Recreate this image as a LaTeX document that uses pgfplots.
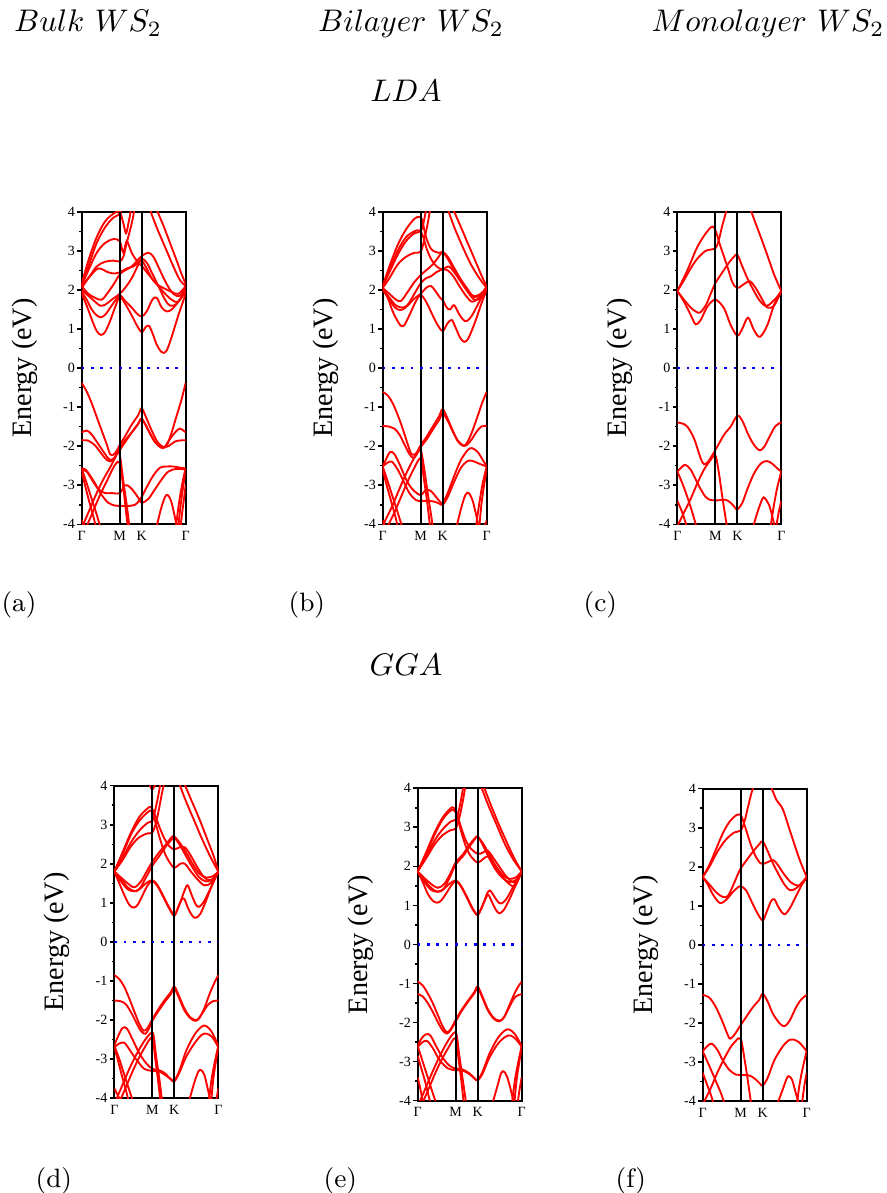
\documentclass[border=0pt]{standalone}
\usepackage{fontspec}
\usepackage{pgfplots}
\pgfplotsset{compat=1.18}
\newfontfamily\tms{Liberation Serif}
\pgfplotsset{
  band/.style={color=red, line width=0.6pt, smooth, tension=0.55, mark=none},
  bandaxis/.style={
    width=33.28pt, height=100pt, scale only axis,
    xmin=0, xmax=312, ymin=-4, ymax=4,
    xtick={0,114,180,312}, xticklabels={Γ,M,K,Γ},
    ytick={-4,-3,-2,-1,0,1,2,3,4}, yticklabels={-4,-3,-2,-1,0,1,2,3,4},
    minor y tick num=1, tick align=outside, ytick pos=left,
    xtick style={draw=none},
    major tick length=1.4pt, minor tick length=0.9pt,
    every tick/.style={black, line width=0.5pt},
    axis line style={line width=0.7pt},
    ticklabel style={font=\tms\fontsize{4.5}{5}\selectfont, inner sep=0.6pt},
    ylabel={Energy (eV)},
    every axis y label/.style={at={(axis description cs:-0.55,0.5)}, rotate=90, anchor=center, font=\tms\fontsize{9}{10}\selectfont},
    clip=true,
  },
  kmarks/.style={black, line width=0.7pt, mark=none},
  fermi/.style={blue, line width=0.72pt, dash pattern=on 0.85pt off 2.15pt, mark=none},
}
\begin{document}
\begin{tikzpicture}
\path[use as bounding box] (0,0) rectangle (283.52pt,-381.76pt);
\begin{scope}[x=0.32pt, y=-0.32pt]
\node[anchor=base] at (88,32) {$Bulk\ WS_2$};
\node[anchor=base] at (411,32) {$Bilayer\ WS_2$};
\node[anchor=base] at (768,32) {$Monolayer\ WS_2$};
\node[anchor=base] at (406,102) {$LDA$};
\node[anchor=base] at (406,675) {$GGA$};
\begin{scope}[every node/.style={anchor=base west, inner sep=0pt, font=\fontsize{8.5}{10}\selectfont}]
\node at (1,611) {(a)};
\node at (288,611) {(b)};
\node at (583,611) {(c)};
\node at (35,1187) {(d)};
\node at (323,1187) {(e)};
\node at (615,1187) {(f)};
\end{scope}
\end{scope}

% (a) Bulk LDA
\begin{axis}[bandaxis, at={(26.14pt,-167.78pt)}, anchor=south west]
\addplot[band] coordinates {(0,1.9)(15,1.6)(30,1.25)(45,0.95)(58,0.85)(70,0.92)(85,1.2)(100,1.55)(114,1.82)(130,1.65)(150,1.35)(165,1.1)(180,0.92)(192,1.05)(202,1.08)(212,0.9)(225,0.6)(238,0.42)(245,0.39)(255,0.45)(270,0.8)(290,1.35)(312,1.9)};
\addplot[band] coordinates {(0,1.95)(15,1.75)(30,1.5)(45,1.35)(58,1.3)(72,1.38)(90,1.6)(114,1.85)(130,1.72)(150,1.55)(165,1.4)(180,1.32)(195,1.45)(212,1.75)(225,1.8)(240,1.55)(255,1.45)(270,1.5)(290,1.7)(312,1.95)};
\addplot[band] coordinates {(0,2.0)(20,1.85)(40,1.7)(55,1.6)(70,1.62)(90,1.75)(114,1.9)(130,2.05)(150,2.3)(170,2.65)(180,2.8)(195,2.7)(210,2.45)(230,2.1)(250,1.75)(265,1.6)(285,1.65)(312,2.0)};
\addplot[band] coordinates {(0,2.1)(20,1.9)(40,1.8)(60,1.75)(80,1.95)(100,2.2)(114,2.4)(130,2.5)(150,2.6)(170,2.78)(180,2.87)(200,2.95)(215,2.85)(235,2.5)(255,2.15)(275,1.9)(295,1.85)(312,2.1)};
\addplot[band] coordinates {(0,2.05)(20,2.3)(45,2.6)(70,2.72)(95,2.75)(114,2.73)(125,2.85)(135,3.2)(150,3.7)(158,4.05)};
\addplot[band] coordinates {(0,2.1)(25,2.35)(50,2.55)(80,2.45)(100,2.42)(114,2.45)(135,2.55)(155,2.6)(170,2.7)(180,2.75)(195,2.55)(210,2.3)(225,2.15)(245,2.05)(270,1.95)(290,1.9)(312,2.1)};
\addplot[band] coordinates {(0,2.1)(20,2.5)(45,2.95)(70,3.2)(95,3.3)(114,3.25)(125,2.95)(135,3.25)(150,2.95)(165,2.75)(180,2.62)(200,2.4)(220,2.2)(245,1.95)(270,1.75)(290,1.7)(312,2.0)};
\addplot[band] coordinates {(0,2.15)(20,2.75)(45,3.35)(70,3.75)(95,3.95)(114,4.0)(125,3.7)(133,3.45)(140,3.7)(148,4.05)};
\addplot[band] coordinates {(0,2.1)(20,2.6)(45,3.2)(70,3.6)(95,3.85)(110,3.92)(120,4.05)};
\addplot[band] coordinates {(205,4.05)(225,3.6)(250,3.1)(275,2.6)(295,2.25)(312,2.1)};
\addplot[band] coordinates {(225,4.05)(245,3.65)(265,3.2)(285,2.75)(300,2.4)(312,2.15)};
\addplot[band] coordinates {(0,-0.38)(15,-0.6)(30,-0.9)(45,-1.25)(60,-1.6)(75,-1.95)(85,-2.2)(95,-2.22)(105,-2.12)(114,-1.97)(130,-1.75)(150,-1.45)(170,-1.2)(180,-1.03)(195,-1.3)(210,-1.6)(228,-1.9)(245,-2.02)(255,-1.98)(268,-1.7)(282,-1.3)(298,-0.85)(312,-0.38)};
\addplot[band] coordinates {(0,-1.65)(15,-1.6)(30,-1.7)(50,-1.95)(70,-2.2)(85,-2.35)(100,-2.28)(114,-2.05)(130,-1.85)(150,-1.65)(168,-1.45)(180,-1.3)(195,-1.5)(210,-1.75)(228,-1.97)(245,-2.05)(262,-1.85)(280,-1.65)(295,-1.55)(312,-1.65)};
\addplot[band] coordinates {(0,-1.85)(20,-1.86)(40,-1.98)(60,-2.2)(75,-2.35)(90,-2.38)(105,-2.2)(114,-2.1)(130,-1.9)(150,-1.65)(170,-1.42)(180,-1.3)(200,-1.6)(220,-1.9)(240,-2.02)(260,-2.0)(280,-1.88)(300,-1.85)(312,-1.85)};
\addplot[band] coordinates {(0,-2.57)(12,-2.6)(25,-2.75)(40,-2.95)(60,-3.25)(80,-3.45)(100,-3.52)(114,-3.53)(140,-3.53)(160,-3.5)(172,-3.4)(180,-3.3)(195,-3.05)(215,-2.75)(235,-2.55)(255,-2.52)(275,-2.52)(295,-2.55)(312,-2.57)};
\addplot[band] coordinates {(0,-2.6)(15,-2.65)(30,-2.85)(50,-3.1)(70,-3.2)(90,-3.2)(114,-3.2)(130,-3.0)(145,-3.05)(160,-3.2)(172,-3.35)(180,-3.45)(200,-3.35)(220,-3.1)(240,-2.85)(260,-2.65)(285,-2.58)(312,-2.6)};
\addplot[band] coordinates {(0,-4.1)(5,-4.0)(25,-3.6)(45,-3.2)(65,-2.85)(85,-2.55)(100,-2.3)(110,-2.15)(116,-2.3)(125,-2.9)(135,-3.5)(143,-4.05)};
\addplot[band] coordinates {(15,-4.05)(35,-3.65)(55,-3.25)(75,-2.9)(95,-2.55)(108,-2.4)(116,-2.5)(124,-3.0)(132,-3.6)(138,-4.05)};
\addplot[band] coordinates {(0,-2.57)(15,-2.95)(30,-3.35)(45,-3.75)(55,-4.05)};
\addplot[band] coordinates {(0,-2.65)(10,-3.0)(22,-3.4)(35,-3.8)(42,-4.05)};
\addplot[band] coordinates {(0,-3.9)(10,-4.05)};
\addplot[band] coordinates {(225,-4.05)(238,-3.6)(250,-3.3)(258,-3.25)(268,-3.4)(278,-3.75)(285,-4.05)};
\addplot[band] coordinates {(312,-2.55)(302,-2.95)(292,-3.45)(283,-4.05)};
\addplot[band] coordinates {(312,-2.65)(305,-3.0)(297,-3.5)(290,-4.05)};
\addplot[band] coordinates {(312,-3.0)(306,-3.4)(300,-3.8)(297,-4.05)};
\addplot[kmarks] coordinates {(114,-4) (114,4)};
\addplot[kmarks] coordinates {(180,-4) (180,4)};
\addplot[fermi] coordinates {(0,0) (312,0)};
\end{axis}

% (b) Bilayer LDA
\begin{axis}[bandaxis, at={(122.46pt,-167.78pt)}, anchor=south west]
\addplot[band] coordinates {(0,2.0)(15,1.8)(30,1.45)(45,1.2)(55,1.08)(65,1.1)(80,1.35)(100,1.72)(114,1.87)(130,1.7)(150,1.35)(165,1.1)(180,0.95)(195,1.15)(207,1.23)(218,1.05)(232,0.78)(245,0.67)(258,0.78)(278,1.2)(296,1.65)(312,2.0)};
\addplot[band] coordinates {(0,2.05)(15,1.85)(30,1.62)(45,1.5)(60,1.5)(75,1.6)(95,1.78)(114,1.9)(130,2.05)(145,2.1)(160,1.95)(172,1.8)(180,1.74)(192,1.55)(202,1.5)(214,1.61)(228,1.4)(240,1.25)(252,1.2)(268,1.35)(290,1.7)(312,2.05)};
\addplot[band] coordinates {(0,2.0)(20,1.8)(40,1.6)(60,1.55)(75,1.62)(95,1.9)(114,2.17)(130,2.3)(145,2.35)(160,2.45)(172,2.5)(180,2.53)(195,2.5)(212,2.35)(230,2.1)(250,1.85)(268,1.7)(290,1.8)(312,2.0)};
\addplot[band] coordinates {(0,2.05)(20,1.9)(40,1.75)(55,1.72)(75,1.95)(95,2.2)(114,2.38)(130,2.5)(150,2.65)(168,2.85)(180,2.97)(195,2.85)(212,2.6)(232,2.3)(252,2.05)(270,1.85)(290,1.88)(312,2.05)};
\addplot[band] coordinates {(0,2.05)(20,2.3)(45,2.65)(70,2.85)(95,2.95)(114,2.98)(125,3.3)(135,3.7)(142,4.05)};
\addplot[band] coordinates {(0,2.1)(20,2.45)(45,2.9)(70,3.25)(95,3.45)(114,3.5)(122,3.7)(130,4.05)};
\addplot[band] coordinates {(0,2.1)(20,2.6)(45,3.15)(70,3.55)(95,3.82)(110,3.87)(118,3.8)(130,3.35)(145,3.05)(160,2.97)(172,2.95)(180,2.97)(195,2.8)(215,2.5)(235,2.25)(255,2.0)(275,1.82)(295,1.88)(312,2.1)};
\addplot[band] coordinates {(0,2.05)(20,2.5)(45,3.0)(70,3.35)(95,3.5)(110,3.52)(120,3.4)(132,3.05)(148,2.75)(165,2.58)(180,2.53)(198,2.6)(215,2.45)(235,2.2)(255,1.95)(275,1.75)(295,1.8)(312,2.05)};
\addplot[band] coordinates {(196,4.05)(215,3.6)(240,3.1)(265,2.65)(290,2.3)(312,2.05)};
\addplot[band] coordinates {(212,4.05)(230,3.7)(255,3.2)(280,2.7)(300,2.3)(312,2.1)};
\addplot[band] coordinates {(0,-0.61)(15,-0.7)(30,-0.9)(45,-1.2)(60,-1.55)(75,-1.95)(85,-2.18)(95,-2.22)(105,-2.12)(114,-1.97)(130,-1.78)(150,-1.5)(170,-1.22)(180,-1.05)(195,-1.3)(210,-1.6)(225,-1.85)(240,-1.97)(250,-1.95)(265,-1.7)(282,-1.3)(298,-0.9)(312,-0.61)};
\addplot[band] coordinates {(0,-1.48)(20,-1.5)(35,-1.55)(50,-1.7)(65,-1.95)(80,-2.2)(92,-2.3)(103,-2.2)(114,-2.02)(130,-1.85)(150,-1.58)(170,-1.32)(180,-1.16)(195,-1.35)(210,-1.62)(225,-1.87)(240,-1.99)(252,-1.97)(265,-1.85)(280,-1.65)(295,-1.5)(312,-1.48)};
\addplot[band] coordinates {(0,-2.52)(12,-2.3)(22,-2.15)(35,-2.2)(50,-2.45)(65,-2.75)(80,-3.0)(95,-3.15)(114,-3.25)(130,-3.12)(145,-3.15)(160,-3.3)(172,-3.42)(180,-3.45)(195,-3.2)(215,-2.75)(235,-2.35)(255,-2.1)(268,-2.05)(285,-2.15)(300,-2.35)(312,-2.52)};
\addplot[band] coordinates {(0,-2.52)(15,-2.42)(28,-2.4)(45,-2.6)(60,-2.85)(80,-3.2)(100,-3.38)(114,-3.4)(135,-3.4)(155,-3.42)(170,-3.47)(180,-3.5)(195,-3.3)(215,-2.9)(235,-2.55)(255,-2.38)(270,-2.38)(290,-2.45)(312,-2.52)};
\addplot[band] coordinates {(0,-4.1)(5,-3.95)(25,-3.6)(45,-3.2)(65,-2.8)(85,-2.45)(100,-2.22)(110,-2.1)(116,-2.15)(125,-2.6)(135,-3.2)(145,-3.75)(150,-4.05)};
\addplot[band] coordinates {(15,-4.05)(35,-3.7)(55,-3.3)(75,-2.9)(95,-2.55)(108,-2.35)(116,-2.35)(123,-2.8)(133,-3.4)(142,-4.05)};
\addplot[band] coordinates {(0,-2.52)(15,-2.9)(30,-3.3)(45,-3.7)(58,-4.05)};
\addplot[band] coordinates {(0,-2.6)(12,-3.0)(25,-3.4)(38,-3.8)(45,-4.05)};
\addplot[band] coordinates {(0,-3.9)(8,-4.05)};
\addplot[band] coordinates {(222,-4.05)(235,-3.6)(248,-3.25)(258,-3.2)(270,-3.4)(280,-3.75)(288,-4.05)};
\addplot[band] coordinates {(312,-2.52)(300,-2.95)(290,-3.45)(280,-4.05)};
\addplot[band] coordinates {(312,-2.6)(304,-3.0)(296,-3.5)(290,-4.05)};
\addplot[band] coordinates {(312,-3.9)(306,-4.05)};
\addplot[kmarks] coordinates {(114,-4) (114,4)};
\addplot[kmarks] coordinates {(180,-4) (180,4)};
\addplot[fermi] coordinates {(0,0) (312,0)};
\end{axis}

% (c) Monolayer LDA
\begin{axis}[bandaxis, at={(216.74pt,-167.78pt)}, anchor=south west]
\addplot[band] coordinates {(0,1.97)(20,1.7)(40,1.36)(55,1.12)(70,1.23)(90,1.57)(114,1.75)(140,1.53)(160,1.1)(180,0.83)(195,1.01)(212,1.29)(230,0.97)(248,0.8)(270,1.1)(290,1.61)(312,1.97)};
\addplot[band] coordinates {(0,1.97)(20,1.75)(40,1.55)(55,1.45)(68,1.42)(85,1.6)(100,1.9)(114,2.17)(135,2.45)(155,2.7)(170,2.85)(180,2.9)(195,2.6)(210,2.3)(225,2.05)(245,1.75)(262,1.6)(275,1.62)(295,1.78)(312,1.97)};
\addplot[band] coordinates {(0,1.97)(20,2.25)(40,2.55)(60,2.8)(85,3.0)(114,3.07)(125,3.3)(135,3.65)(148,4.05)};
\addplot[band] coordinates {(0,1.97)(30,2.5)(60,3.1)(90,3.5)(110,3.6)(130,3.1)(150,2.6)(165,2.2)(180,2.05)(200,2.15)(218,2.22)(235,2.05)(255,1.75)(270,1.55)(290,1.6)(312,1.97)};
\addplot[band] coordinates {(220,4.05)(235,3.7)(250,3.36)(270,2.89)(290,2.4)(312,1.97)};
\addplot[band] coordinates {(0,-1.39)(15,-1.42)(30,-1.5)(50,-1.8)(70,-2.31)(80,-2.46)(92,-2.4)(114,-2.1)(140,-1.71)(160,-1.5)(180,-1.22)(195,-1.35)(210,-1.65)(225,-1.9)(240,-2.07)(250,-2.1)(262,-2.0)(280,-1.7)(295,-1.48)(312,-1.39)};
\addplot[band] coordinates {(0,-2.65)(15,-2.52)(25,-2.48)(40,-2.6)(55,-2.85)(70,-3.1)(85,-3.3)(100,-3.38)(114,-3.39)(130,-3.38)(145,-3.37)(160,-3.45)(172,-3.56)(180,-3.62)(195,-3.45)(210,-3.1)(230,-2.7)(250,-2.45)(268,-2.38)(285,-2.45)(300,-2.57)(312,-2.65)};
\addplot[band] coordinates {(0,-4.05)(20,-3.7)(40,-3.35)(60,-2.95)(80,-2.6)(100,-2.35)(110,-2.25)(116,-2.27)(125,-2.7)(135,-3.3)(145,-3.85)(150,-4.1)};
\addplot[band] coordinates {(0,-2.65)(15,-2.95)(30,-3.3)(45,-3.7)(57,-4.05)};
\addplot[band] coordinates {(0,-3.4)(15,-3.7)(28,-4.05)};
\addplot[band] coordinates {(228,-4.05)(240,-3.7)(255,-3.35)(262,-3.33)(275,-3.5)(285,-3.8)(292,-4.05)};
\addplot[band] coordinates {(312,-2.65)(300,-3.05)(290,-3.5)(280,-4.05)};
\addplot[band] coordinates {(312,-3.4)(304,-3.7)(297,-4.05)};
\addplot[kmarks] coordinates {(114,-4) (114,4)};
\addplot[kmarks] coordinates {(180,-4) (180,4)};
\addplot[fermi] coordinates {(0,0) (312,0)};
\end{axis}

% (d) Bulk GGA
\begin{axis}[bandaxis, at={(36.58pt,-351.42pt)}, anchor=south west]
\addplot[band] coordinates {(0,1.8)(15,1.5)(30,1.2)(45,0.95)(58,0.88)(70,0.95)(85,1.2)(100,1.45)(114,1.56)(130,1.42)(150,1.1)(165,0.85)(180,0.67)(192,0.9)(202,1.08)(210,1.1)(222,0.85)(235,0.66)(245,0.62)(258,0.72)(275,1.05)(293,1.45)(312,1.8)};
\addplot[band] coordinates {(0,1.8)(20,1.55)(40,1.35)(58,1.3)(75,1.35)(95,1.5)(114,1.58)(130,1.45)(150,1.12)(165,0.88)(180,0.7)(195,0.95)(210,1.3)(220,1.45)(232,1.2)(245,0.95)(255,0.9)(270,1.05)(290,1.4)(312,1.8)};
\addplot[band] coordinates {(0,1.8)(20,1.6)(40,1.4)(60,1.3)(75,1.35)(95,1.65)(114,1.95)(135,2.2)(155,2.45)(172,2.62)(180,2.67)(195,2.5)(215,2.2)(235,1.9)(255,1.65)(275,1.55)(295,1.6)(312,1.8)};
\addplot[band] coordinates {(0,1.8)(20,1.65)(40,1.5)(60,1.4)(80,1.55)(100,1.85)(114,2.05)(135,2.3)(155,2.5)(172,2.68)(180,2.7)(195,2.55)(215,2.3)(235,2.0)(255,1.75)(275,1.65)(295,1.68)(312,1.8)};
\addplot[band] coordinates {(0,1.8)(25,2.1)(50,2.45)(75,2.68)(100,2.78)(114,2.8)(125,3.05)(135,3.45)(145,3.9)(150,4.05)};
\addplot[band] coordinates {(0,1.8)(25,2.15)(50,2.55)(75,2.85)(100,3.05)(114,3.1)(122,3.35)(132,3.75)(138,4.05)};
\addplot[band] coordinates {(0,1.8)(25,2.3)(50,2.8)(75,3.2)(100,3.42)(110,3.45)(120,3.3)(135,2.95)(150,2.65)(165,2.45)(180,2.37)(195,2.42)(212,2.42)(230,2.2)(250,1.9)(270,1.65)(290,1.58)(312,1.8)};
\addplot[band] coordinates {(0,1.8)(25,2.25)(50,2.75)(75,3.1)(100,3.32)(112,3.35)(122,3.1)(135,2.7)(150,2.3)(165,2.05)(180,1.9)(198,2.0)(212,2.0)(230,1.8)(250,1.6)(270,1.45)(292,1.52)(312,1.8)};
\addplot[band] coordinates {(105,4.05)(114,3.9)(123,4.05)};
\addplot[band] coordinates {(195,4.05)(215,3.6)(240,3.1)(265,2.6)(290,2.15)(312,1.8)};
\addplot[band] coordinates {(210,4.05)(230,3.65)(255,3.15)(280,2.6)(298,2.2)(312,1.8)};
\addplot[band] coordinates {(0,-0.85)(15,-0.95)(30,-1.15)(45,-1.45)(60,-1.78)(75,-2.1)(88,-2.27)(100,-2.2)(114,-1.98)(130,-1.75)(150,-1.5)(170,-1.28)(180,-1.14)(195,-1.4)(210,-1.7)(228,-1.93)(245,-2.0)(255,-1.95)(270,-1.7)(285,-1.35)(300,-1.05)(312,-0.85)};
\addplot[band] coordinates {(0,-1.5)(20,-1.52)(35,-1.6)(50,-1.8)(65,-2.05)(80,-2.28)(93,-2.35)(105,-2.2)(114,-2.02)(130,-1.8)(150,-1.55)(170,-1.33)(180,-1.2)(195,-1.45)(210,-1.75)(228,-1.95)(245,-2.02)(262,-1.85)(280,-1.62)(295,-1.52)(312,-1.5)};
\addplot[band] coordinates {(0,-2.65)(12,-2.4)(25,-2.2)(38,-2.22)(55,-2.5)(75,-2.85)(95,-3.1)(114,-3.25)(130,-3.27)(150,-3.35)(168,-3.5)(180,-3.55)(195,-3.3)(215,-2.8)(240,-2.38)(262,-2.17)(275,-2.15)(292,-2.3)(312,-2.65)};
\addplot[band] coordinates {(0,-2.7)(15,-2.6)(30,-2.58)(45,-2.75)(65,-3.0)(90,-3.25)(114,-3.3)(135,-3.32)(155,-3.42)(170,-3.52)(180,-3.57)(195,-3.35)(215,-2.95)(240,-2.6)(262,-2.38)(278,-2.35)(295,-2.45)(312,-2.7)};
\addplot[band] coordinates {(0,-4.15)(5,-4.05)(25,-3.65)(45,-3.25)(65,-2.9)(85,-2.6)(100,-2.42)(112,-2.32)(118,-2.4)(125,-2.9)(135,-3.5)(143,-4.05)};
\addplot[band] coordinates {(18,-4.05)(38,-3.65)(58,-3.25)(78,-2.9)(98,-2.6)(110,-2.45)(116,-2.5)(123,-3.0)(132,-3.6)(138,-4.05)};
\addplot[band] coordinates {(0,-2.65)(15,-3.0)(30,-3.4)(45,-3.8)(55,-4.05)};
\addplot[band] coordinates {(0,-2.7)(10,-3.0)(22,-3.4)(35,-3.8)(42,-4.05)};
\addplot[band] coordinates {(0,-3.75)(12,-3.95)(18,-4.05)};
\addplot[band] coordinates {(225,-4.05)(240,-3.6)(252,-3.32)(260,-3.28)(270,-3.4)(280,-3.75)(288,-4.05)};
\addplot[band] coordinates {(312,-2.65)(302,-3.05)(292,-3.5)(284,-4.05)};
\addplot[band] coordinates {(312,-2.7)(305,-3.05)(297,-3.5)(291,-4.05)};
\addplot[band] coordinates {(312,-3.75)(306,-4.05)};
\addplot[kmarks] coordinates {(114,-4) (114,4)};
\addplot[kmarks] coordinates {(180,-4) (180,4)};
\addplot[fermi] coordinates {(0,0) (312,0)};
\end{axis}

% (e) Bilayer GGA
\begin{axis}[bandaxis, at={(133.66pt,-352.22pt)}, anchor=south west]
\addplot[band] coordinates {(0,1.87)(15,1.6)(30,1.3)(45,1.12)(58,1.07)(70,1.12)(85,1.3)(100,1.5)(114,1.62)(130,1.48)(150,1.15)(165,0.9)(180,0.75)(192,0.95)(205,1.2)(212,1.27)(222,1.1)(235,0.88)(245,0.8)(258,0.88)(275,1.15)(293,1.5)(312,1.87)};
\addplot[band] coordinates {(0,1.87)(20,1.6)(40,1.4)(58,1.35)(75,1.4)(95,1.55)(114,1.64)(130,1.5)(150,1.18)(165,0.92)(180,0.77)(195,1.0)(208,1.3)(217,1.38)(228,1.25)(240,1.1)(250,1.05)(265,1.15)(288,1.5)(312,1.87)};
\addplot[band] coordinates {(0,1.87)(20,1.65)(40,1.45)(60,1.35)(78,1.42)(98,1.75)(114,2.05)(135,2.25)(155,2.5)(172,2.7)(180,2.77)(195,2.55)(215,2.2)(235,1.9)(255,1.7)(275,1.6)(295,1.65)(312,1.87)};
\addplot[band] coordinates {(0,1.87)(20,1.7)(40,1.55)(60,1.45)(80,1.55)(100,1.85)(114,2.1)(135,2.3)(155,2.55)(172,2.72)(180,2.75)(195,2.6)(215,2.3)(235,2.0)(255,1.78)(275,1.68)(295,1.72)(312,1.87)};
\addplot[band] coordinates {(0,1.87)(25,2.2)(50,2.55)(75,2.8)(100,2.93)(114,2.97)(125,3.25)(135,3.65)(143,4.05)};
\addplot[band] coordinates {(0,1.87)(25,2.25)(50,2.65)(75,2.95)(100,3.15)(114,3.2)(124,3.45)(132,3.8)(137,4.05)};
\addplot[band] coordinates {(0,1.87)(25,2.35)(50,2.85)(75,3.25)(98,3.48)(108,3.5)(118,3.35)(130,3.0)(145,2.65)(160,2.45)(180,2.32)(195,2.35)(210,2.4)(228,2.2)(248,1.95)(268,1.72)(290,1.6)(312,1.87)};
\addplot[band] coordinates {(0,1.87)(25,2.3)(50,2.8)(75,3.2)(98,3.42)(108,3.44)(118,3.3)(130,2.9)(145,2.5)(160,2.25)(180,2.1)(198,2.2)(212,2.25)(230,2.05)(250,1.8)(270,1.58)(292,1.5)(312,1.87)};
\addplot[band] coordinates {(190,4.05)(210,3.6)(235,3.1)(260,2.6)(285,2.2)(312,1.87)};
\addplot[band] coordinates {(198,4.05)(218,3.6)(242,3.1)(268,2.6)(290,2.2)(312,1.87)};
\addplot[band] coordinates {(0,-0.95)(15,-1.05)(30,-1.25)(45,-1.5)(60,-1.8)(75,-2.1)(88,-2.25)(100,-2.15)(114,-1.93)(130,-1.7)(150,-1.45)(170,-1.22)(180,-1.08)(195,-1.35)(210,-1.65)(228,-1.88)(245,-1.95)(258,-1.88)(272,-1.62)(288,-1.3)(300,-1.1)(312,-0.95)};
\addplot[band] coordinates {(0,-1.27)(15,-1.33)(30,-1.5)(45,-1.72)(60,-1.98)(75,-2.2)(88,-2.28)(100,-2.18)(114,-1.97)(130,-1.73)(150,-1.48)(170,-1.25)(180,-1.12)(195,-1.38)(210,-1.68)(228,-1.9)(245,-1.97)(260,-1.85)(275,-1.6)(292,-1.35)(312,-1.27)};
\addplot[band] coordinates {(0,-2.6)(12,-2.4)(25,-2.3)(38,-2.33)(55,-2.6)(75,-2.9)(95,-3.1)(114,-3.18)(135,-3.2)(155,-3.3)(170,-3.42)(180,-3.47)(195,-3.25)(215,-2.8)(240,-2.4)(262,-2.2)(275,-2.18)(292,-2.3)(312,-2.6)};
\addplot[band] coordinates {(0,-2.62)(15,-2.5)(28,-2.47)(45,-2.65)(65,-2.95)(90,-3.17)(114,-3.22)(135,-3.23)(155,-3.32)(170,-3.43)(180,-3.48)(195,-3.3)(215,-2.9)(240,-2.55)(262,-2.37)(278,-2.33)(295,-2.43)(312,-2.62)};
\addplot[band] coordinates {(0,-4.15)(5,-4.05)(25,-3.65)(45,-3.25)(65,-2.88)(85,-2.55)(100,-2.35)(111,-2.25)(117,-2.32)(125,-2.85)(135,-3.45)(145,-4.05)};
\addplot[band] coordinates {(15,-4.05)(35,-3.65)(55,-3.25)(75,-2.9)(95,-2.6)(108,-2.42)(116,-2.45)(122,-2.9)(131,-3.5)(138,-4.05)};
\addplot[band] coordinates {(0,-2.6)(15,-3.0)(30,-3.4)(45,-3.8)(55,-4.05)};
\addplot[band] coordinates {(0,-2.85)(10,-3.15)(22,-3.5)(32,-3.85)(38,-4.05)};
\addplot[band] coordinates {(0,-3.4)(8,-3.7)(16,-4.05)};
\addplot[band] coordinates {(225,-4.05)(240,-3.6)(250,-3.3)(258,-3.25)(268,-3.38)(280,-3.75)(288,-4.05)};
\addplot[band] coordinates {(312,-2.6)(302,-3.0)(292,-3.45)(283,-4.05)};
\addplot[band] coordinates {(312,-2.62)(305,-3.0)(297,-3.45)(290,-4.05)};
\addplot[band] coordinates {(312,-3.4)(305,-3.75)(300,-4.05)};
\addplot[kmarks] coordinates {(114,-4) (114,4)};
\addplot[kmarks] coordinates {(180,-4) (180,4)};
\addplot[fermi] coordinates {(0,0) (312,0)};
\end{axis}

% (f) Monolayer GGA
\begin{axis}[bandaxis, at={(224.86pt,-352.38pt)}, anchor=south west]
\addplot[band] coordinates {(0,1.74)(15,1.55)(30,1.3)(45,1.12)(55,1.07)(70,1.15)(90,1.35)(105,1.47)(114,1.5)(130,1.4)(150,1.05)(165,0.8)(180,0.63)(192,0.85)(205,1.12)(215,1.17)(225,1.0)(238,0.83)(248,0.79)(262,0.95)(280,1.25)(298,1.55)(312,1.74)};
\addplot[band] coordinates {(0,1.74)(20,1.55)(40,1.35)(60,1.23)(75,1.25)(90,1.5)(105,1.8)(114,1.96)(130,2.15)(150,2.38)(170,2.58)(180,2.65)(195,2.4)(210,2.1)(225,1.85)(245,1.55)(262,1.4)(280,1.45)(298,1.6)(312,1.74)};
\addplot[band] coordinates {(0,1.74)(20,2.0)(45,2.4)(70,2.7)(95,2.88)(114,2.93)(125,3.15)(135,3.5)(145,3.85)(152,4.05)};
\addplot[band] coordinates {(0,1.74)(20,2.05)(40,2.45)(60,2.85)(80,3.15)(100,3.32)(108,3.34)(116,3.3)(130,2.95)(145,2.55)(160,2.25)(172,2.1)(180,2.07)(195,2.12)(212,2.17)(225,2.05)(245,1.8)(265,1.6)(285,1.52)(300,1.58)(312,1.74)};
\addplot[band] coordinates {(205,4.05)(222,3.7)(240,3.48)(260,2.97)(290,2.2)(312,1.74)};
\addplot[band] coordinates {(0,-1.28)(20,-1.35)(40,-1.6)(60,-1.98)(75,-2.3)(82,-2.4)(95,-2.3)(114,-2.05)(130,-1.85)(150,-1.6)(170,-1.4)(180,-1.25)(195,-1.45)(210,-1.75)(230,-2.0)(245,-2.08)(260,-1.95)(280,-1.6)(295,-1.4)(312,-1.28)};
\addplot[band] coordinates {(0,-2.72)(15,-2.58)(28,-2.53)(45,-2.7)(60,-2.95)(80,-3.2)(100,-3.32)(114,-3.33)(130,-3.33)(145,-3.36)(160,-3.45)(172,-3.55)(180,-3.6)(195,-3.4)(215,-2.95)(240,-2.6)(260,-2.43)(272,-2.42)(290,-2.5)(312,-2.72)};
\addplot[band] coordinates {(0,-4.1)(5,-4.0)(25,-3.65)(45,-3.25)(65,-2.9)(85,-2.6)(100,-2.45)(108,-2.39)(116,-2.45)(125,-2.9)(135,-3.45)(145,-4.05)};
\addplot[band] coordinates {(0,-2.72)(20,-3.1)(40,-3.5)(55,-3.8)(65,-4.05)};
\addplot[band] coordinates {(0,-3.27)(12,-3.55)(25,-3.85)(32,-4.05)};
\addplot[band] coordinates {(225,-4.05)(240,-3.7)(252,-3.42)(258,-3.36)(268,-3.45)(278,-3.75)(288,-4.05)};
\addplot[band] coordinates {(312,-2.72)(300,-3.15)(290,-3.6)(283,-4.05)};
\addplot[band] coordinates {(312,-3.27)(305,-3.6)(298,-4.05)};
\addplot[kmarks] coordinates {(114,-4) (114,4)};
\addplot[kmarks] coordinates {(180,-4) (180,4)};
\addplot[fermi] coordinates {(0,0) (312,0)};
\end{axis}
\end{tikzpicture}
\end{document}
